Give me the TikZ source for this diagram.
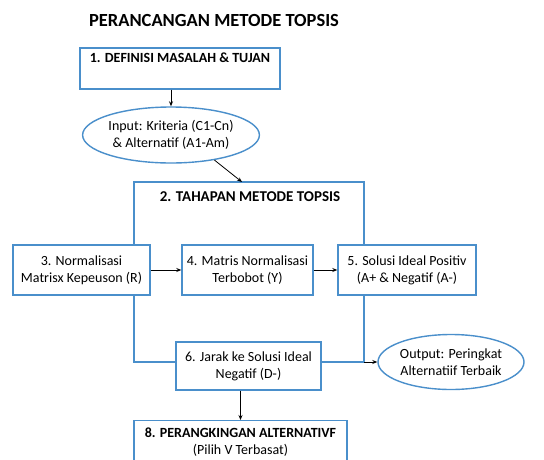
\documentclass[tikz,border=0pt]{standalone}
\usepackage{fontspec}
\setmainfont{Carlito}
\usepackage{tikz}
\usetikzlibrary{shapes.geometric, arrows.meta, calc}
\definecolor{boxblue}{HTML}{4A8FCB}
\newcommand{\LW}{1.4pt}
\newcommand{\FS}{\fontsize{14}{17}\selectfont}
\newcommand{\FB}{\fontsize{15}{17}\selectfont\bfseries}

\begin{document}
\begin{tikzpicture}[x=1pt, y=-1pt,
    stepbox/.style={draw=boxblue, line width=\LW, fill=white, align=center, inner sep=2pt, font=\FS},
    inbox/.style={draw=boxblue, line width=\LW, ellipse, fill=white, align=center, inner sep=0pt, font=\FS},
    frame/.style={draw=boxblue, line width=\LW},
    arr/.style={-{Stealth[length=5pt, width=4pt]}, line width=0.8pt, black}]
            \useasboundingbox (0,0) rectangle (544,459);

            % title
            \path (214,20) node (T) {\fontsize{18.5}{20}\selectfont\bfseries PERANCANGAN METODE TOPSIS};

            % step 1 and input
            \path (180,68.5) node (B1) [stepbox, minimum width=200, minimum height=41]{\bfseries 1. DEFINISI MASALAH \& TUJAN\\ \strut};
            \path (171,135) node (In) [inbox, minimum width=160, minimum height=56]{Input: Kriteria (C1-Cn)\\ \& Alternatif (A1-Am)};

            % step 2 frame corners
            \path (134,182) coordinate (P1);
            \path (364,182) coordinate (P2);
            \path (242,182) coordinate (E2);
            \path (250,197) node (T2) {\FB 2. TAHAPAN METODE TOPSIS};

            % steps 3 - 5
            \path (81.5,270) node (B3) [stepbox, minimum width=137, minimum height=50]{3. Normalisasi\\ Matrisx Kepeuson (R)};
            \path (247.5,270) node (B4) [stepbox, minimum width=131, minimum height=50]{4. Matris Normalisasi\\ Terbobot (Y)};
            \path (407,270) node (B5) [stepbox, minimum width=138, minimum height=50]{5. Solusi Ideal Positiv\\ (A+ \& Negatif (A-)};

            % step 6, output, step 8
            \path (248.5,366) node (B6) [stepbox, minimum width=145, minimum height=48]{6. Jarak ke Solusi Ideal\\ Negatif (D-)};
            \path (451,362) node (Out) [inbox, minimum width=146, minimum height=55]{Output: Peringkat\\ Alternatiif Terbaik};
            \path (240.5,420) node (B8) [stepbox, anchor=north, minimum width=213, minimum height=42]{{\fontsize{14}{17}\selectfont\bfseries 8. PERANGKINGAN ALTERNATIVF}\\ (Pilih V Terbasat)};

            % frame of step 2
            \draw [frame] (B3.north -| P1) -- (P1) -- (P2) -- (B5.north -| P2);
            \draw [frame] (B3.south -| P1) |- (B6.west |- Out.west);
            \draw [frame] (B5.south -| P2) |- (B6.east |- Out.west);

            % arrows
            \draw [arr] (In.north |- B1.south) -- (In.north);
            \draw [arr] (In.-30) -- (E2);
            \draw [arr] (B3) -- (B4);
            \draw [arr] (B4) -- (B5);
            \draw [arr] (P2 |- Out.west) -- (Out.west);
            \draw [arr] (B8.north |- B6.south) -- (B8.north);
        \end{tikzpicture}
\end{document}
